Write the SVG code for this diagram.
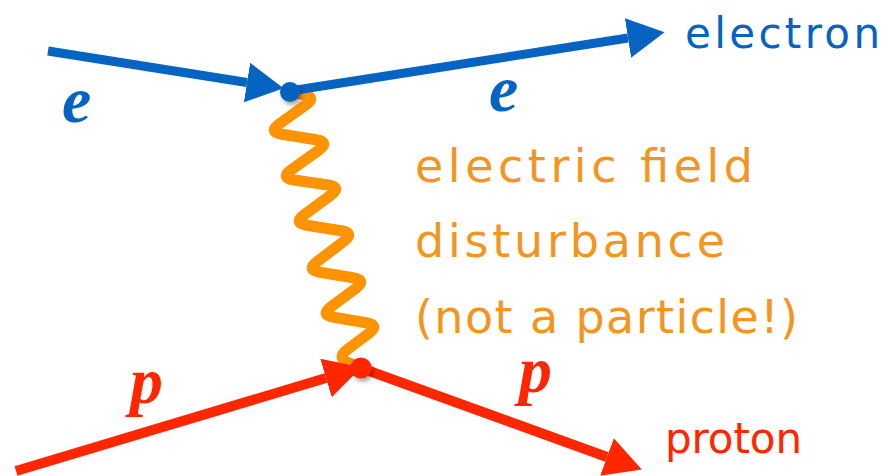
<svg xmlns="http://www.w3.org/2000/svg" width="894" height="476" viewBox="0 0 894 476">
  <style>
    .blue { stroke: #0563C1; fill: none; stroke-width: 9; }
    .red { stroke: #FF2600; fill: none; stroke-width: 10; }
    .wave { stroke: #FF9300; fill: none; stroke-width: 11; stroke-linejoin: round; stroke-linecap: round; }
    .math { font-family: "Liberation Serif", "Times New Roman", serif; font-style: italic; font-weight: bold; font-size: 66px; }
    .hand { font-family: "DejaVu Sans", "Noto Sans", sans-serif; }
    .note { fill: #F4951F; font-size: 46px; }
  </style>
  <defs>
    <marker id="arrowBlue" markerUnits="userSpaceOnUse" markerWidth="40" markerHeight="42" refX="0" refY="20" orient="auto">
      <path d="M0,0 L37,20 L0,40 z" fill="#0563C1"/>
    </marker>
    <marker id="arrowRed" markerUnits="userSpaceOnUse" markerWidth="42" markerHeight="42" refX="0" refY="20" orient="auto">
      <path d="M0,0 L37,20 L0,40 z" fill="#FF2600"/>
    </marker>
    <filter id="shadow" x="-50%" y="-50%" width="200%" height="200%">
      <feDropShadow dx="2" dy="3" stdDeviation="2" flood-color="#000" flood-opacity="0.35"/>
    </filter>
  </defs>

  <g id="connectors">
    <path id="photon" class="wave" d="M 290 92 L 303.2 94.5 Q 317 97 305.6 105.1 L 279.4 123.9 Q 268 132 281.8 134.2 L 316.2 139.8 Q 330 142 318.6 150.2 L 291.4 169.8 Q 280 178 293.9 180 L 328.1 185 Q 342 187 330.7 195.3 L 304.3 214.7 Q 293 223 306.8 225.2 L 341.2 230.8 Q 355 233 343.8 241.4 L 317.2 261.6 Q 306 270 319.8 272.3 L 353.2 277.7 Q 367 280 355.8 288.4 L 331.2 306.6 Q 320 315 333.8 317.3 L 366.2 322.7 Q 380 325 368.8 333.4 L 347.2 349.6 Q 336 358 349.1 363 L 362 368"/>
    <line id="e-in" class="blue" x1="48" y1="51" x2="247" y2="82.5" marker-end="url(#arrowBlue)"/>
    <line id="e-out" class="blue" x1="290" y1="91" x2="628" y2="38" marker-end="url(#arrowBlue)"/>
    <line id="p-in" class="red" x1="16" y1="471" x2="326" y2="378" marker-end="url(#arrowRed)"/>
    <line id="p-out" class="red" x1="361" y1="368" x2="607" y2="457" marker-end="url(#arrowRed)"/>
  </g>

  <g id="vertex-electron">
    <circle cx="290" cy="92" r="10" fill="#0563C1" filter="url(#shadow)"/>
  </g>
  <g id="vertex-proton">
    <circle cx="361" cy="368" r="10.5" fill="#FF2600" filter="url(#shadow)"/>
  </g>

  <g id="label-e-in"><text class="math" x="62" y="122" fill="#0563C1">e</text></g>
  <g id="label-e-out"><text class="math" x="489" y="111" fill="#0563C1">e</text></g>
  <g id="label-p-in"><text class="math" x="130" y="403" fill="#FF2600">p</text></g>
  <g id="label-p-out"><text class="math" x="519" y="392" fill="#FF2600">p</text></g>

  <g id="label-electron"><text class="hand" x="685" y="48" font-size="42" fill="#0563C1" textLength="195" lengthAdjust="spacing">electron</text></g>
  <g id="label-proton"><text class="hand" x="665" y="453" font-size="42" fill="#FF2600" textLength="137" lengthAdjust="spacing">proton</text></g>

  <g id="label-field">
    <text class="hand note" x="415" y="182" textLength="338" lengthAdjust="spacing">electric field</text>
    <text class="hand note" x="415" y="257" textLength="310" lengthAdjust="spacing">disturbance</text>
    <text class="hand note" x="415" y="333" textLength="383" lengthAdjust="spacing">(not a particle!)</text>
  </g>
</svg>
